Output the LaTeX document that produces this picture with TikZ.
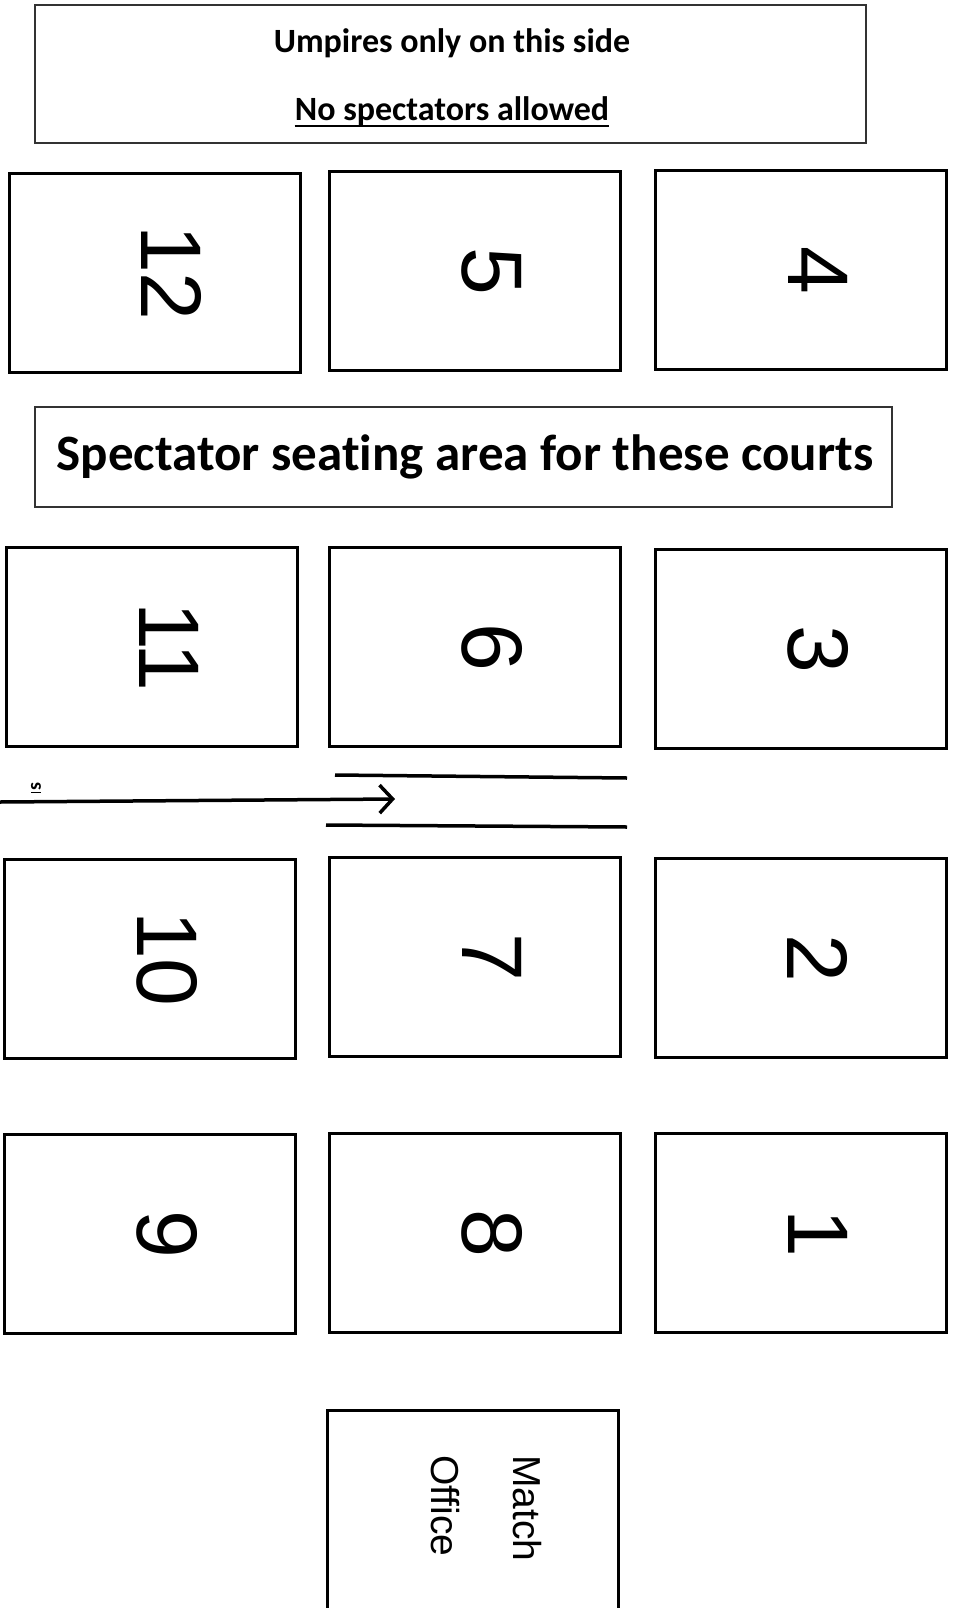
\documentclass[tikz,border=0pt]{standalone}
\usepackage{fontspec}
\setmainfont{Carlito}[Ligatures=NoCommon]
\newfontfamily\numfont{Liberation Sans}
\usetikzlibrary{arrows.meta}

\begin{document}
\begin{tikzpicture}[
  x=1pt,y=-1pt,
  court/.style={rectangle,draw=black,line width=3.5pt,minimum width=291pt,minimum height=199pt,inner sep=0pt},
  sign/.style={rectangle,draw=black!80,line width=1.5pt,inner sep=0pt},
  num/.style={font=\numfont\fontsize{86}{100}\selectfont,rotate=-90,inner sep=0pt},
  headtext/.style={font=\bfseries\fontsize{34}{40}\selectfont,anchor=base,inner sep=0pt},
  office/.style={font=\numfont\fontsize{39}{47}\selectfont,rotate=-90,anchor=base west,inner sep=0pt},
  lane/.style={line width=3.5pt},
  arr/.style={-{Straight Barb[length=13pt,width=28pt]},line width=3.5pt}
]
\useasboundingbox (0,0) rectangle (953,1608);

\node[sign,minimum width=831pt,minimum height=138pt] (umpirebox) at (450.5,74) {};
\node[headtext] (umpires) at (452,53) {Umpires only on this side};
\node[headtext] (nospec) at (452,121) {No spectators allowed};
\draw[line width=2pt] ([yshift=-5pt]nospec.base west) -- ([yshift=-5pt]nospec.base east);

\node[sign,minimum width=857pt,minimum height=100pt] (seating) at (463.5,457) {};
\node[anchor=base,font=\bfseries\fontsize{51}{60}\selectfont,inner sep=0pt] (seattext) at (465,470) {Spectator seating area for these courts};

\foreach \n/\cx/\cy in {12/155/273,5/475/271,4/801/270,11/152/647,6/475/647,3/801/649,10/150/959,7/475/957,2/801/958,9/150/1234,8/475/1233,1/801/1233}{
  \node[court] (court\n) at (\cx,\cy) {};
  \node[num] (num\n) at ([xshift=17pt]court\n.center) {\n};
}

\coordinate (walkstart) at (0,802);
\coordinate (walkend) at (395,799);
\draw[arr] (walkstart) -- (walkend);
\node[font=\bfseries\fontsize{20}{24}\selectfont,inner sep=0pt] (walklabel) at (36,788) {\underline{\rotatebox{90}{s}}};
\coordinate (laneA1) at (335,775);
\coordinate (laneA2) at (627,778);
\coordinate (laneB1) at (326,825);
\coordinate (laneB2) at (627,827);
\draw[lane] (laneA1) -- (laneA2);
\draw[lane] (laneB1) -- (laneB2);

\node[rectangle,minimum width=291pt,minimum height=220pt,anchor=north,inner sep=0pt] (mo) at (473,1410.5) {};
\draw[line width=3.5pt] (mo.south west) |- (mo.north east) -- (mo.south east);
\node[office] (match) at (513,1455) {Match};
\node[office] (officetext) at (431,1455) {Office};
\end{tikzpicture}
\end{document}
